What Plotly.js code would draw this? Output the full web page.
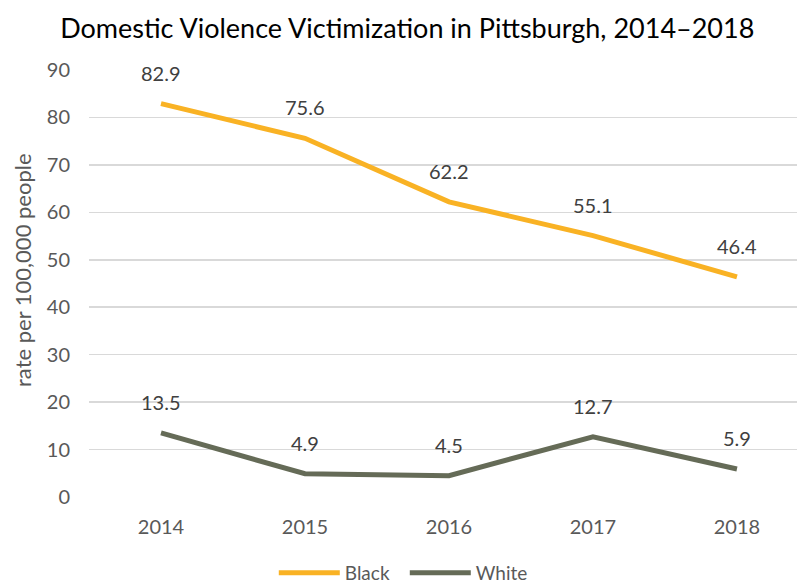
<!DOCTYPE html>
<html>
<head>
<meta charset="utf-8">
<script src="https://cdn.plot.ly/plotly-3.0.1.min.js"></script>
<style>html,body{margin:0;padding:0;background:#fff;}#chart{width:797px;height:588px;}</style>
</head>
<body>
<div id="chart"></div>
<script>
const years = ["2014", "2015", "2016", "2017", "2018"];
const blackRate = [82.9, 75.6, 62.2, 55.1, 46.4];
const whiteRate = [13.5, 4.9, 4.5, 12.7, 5.9];
const yTicks = [0, 10, 20, 30, 40, 50, 60, 70, 80, 90];
const yTitle = "rate per 100,000 people";

const FONT = "Lato, 'Open Sans', sans-serif";
const series = [
  {name: "Black", values: blackRate, color: "#F9B224"},
  {name: "White", values: whiteRate, color: "#656B57"}
];

const traces = series.map(s => ({
  x: years, y: s.values, name: s.name, type: "scatter", mode: "lines",
  line: {color: s.color, width: 5}, hoverinfo: "skip"
}));

const annotations = [];
series.forEach(s => {
  s.values.forEach((v, i) => {
    annotations.push({
      x: i, y: v, xref: "x", yref: "y", text: v.toFixed(1),
      showarrow: false, yshift: 31, font: {family: FONT, size: 20, color: "#404040"}
    });
  });
});
annotations.push({
  text: yTitle, xref: "paper", yref: "paper", x: -0.093, y: 0.532,
  xanchor: "center", yanchor: "middle", textangle: -90, showarrow: false,
  font: {family: FONT, size: 22, color: "#595959"}
});

const layout = {
  width: 797, height: 588,
  margin: {l: 89, r: 0, t: 70, b: 91, autoexpand: false},
  paper_bgcolor: "#fff", plot_bgcolor: "#fff",
  title: {text: "Domestic Violence Victimization in Pittsburgh, 2014–2018",
    font: {family: FONT, size: 27, color: "#000"}, x: 0.511, xanchor: "center", y: 0.952, yanchor: "middle"},
  xaxis: {type: "category", range: [-0.5, 4.417], showgrid: false, zeroline: false, showline: false,
    ticks: "outside", ticklen: 12, tickcolor: "rgba(0,0,0,0)",
    tickfont: {family: FONT, size: 20, color: "#595959"}, fixedrange: true},
  yaxis: {range: [0, 90], tickvals: yTicks, showgrid: true, gridcolor: "#D9D9D9", gridwidth: 1.5,
    zeroline: false, showline: false, ticks: "outside", ticklen: 14, tickcolor: "rgba(0,0,0,0)",
    tickfont: {family: FONT, size: 20, color: "#595959"}, fixedrange: true},
  showlegend: true,
  legend: {orientation: "h", x: 0.261, xanchor: "left", y: -0.178, yanchor: "middle",
    itemwidth: 61, entrywidth: 55,
    font: {family: FONT, size: 19, color: "#595959"}, traceorder: "normal"},
  annotations: annotations
};

Plotly.newPlot("chart", traces, layout, {displayModeBar: false, staticPlot: true});
</script>
</body>
</html>
